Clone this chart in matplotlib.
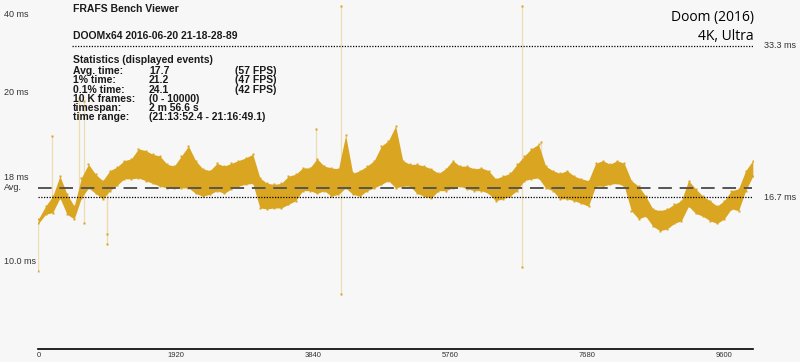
import numpy as np
import matplotlib.pyplot as plt

# --- 1. data ---
# frame index of each sample, and the upper / lower edge of the dot cloud in ms
frames = np.arange(0, 10001, 100)
hi_ms = [14.3, 15.7, 16.8, 19.0, 17.0, 15.7, 18.8, 20.3, 19.2, 18.5,
         19.6, 20.0, 20.7, 20.9, 22.0, 21.8, 21.4, 21.2, 20.3, 20.1,
         21.2, 22.3, 20.7, 19.8, 19.6, 20.4, 20.1, 20.4, 20.7, 21.0,
         21.4, 18.8, 18.2, 18.1, 18.2, 19.0, 19.2, 19.9, 19.9, 20.9,
         20.1, 19.9, 19.8, 23.5, 19.3, 19.6, 20.1, 20.7, 22.3, 22.9,
         24.5, 20.7, 20.3, 20.3, 20.1, 19.8, 19.3, 19.8, 20.7, 20.1,
         20.1, 19.8, 19.9, 19.6, 18.7, 19.0, 19.3, 20.3, 21.2, 22.0,
         22.5, 20.1, 19.6, 19.3, 19.6, 19.0, 18.7, 18.5, 20.4, 20.7,
         20.3, 20.7, 20.4, 18.5, 17.9, 16.8, 15.4, 15.2, 15.4, 15.9,
         16.3, 18.5, 17.6, 16.8, 16.3, 15.7, 16.3, 17.4, 17.6, 19.6,
         20.7]
lo_ms = [13.8, 14.8, 15.0, 16.6, 14.8, 14.3, 16.6, 17.7, 17.1, 16.5,
         17.4, 18.0, 18.7, 18.7, 18.8, 18.5, 18.2, 17.9, 17.7, 17.7,
         17.7, 17.7, 17.1, 16.8, 17.0, 17.4, 17.1, 17.6, 17.9, 18.1,
         18.2, 15.5, 15.4, 15.5, 15.5, 15.9, 16.3, 17.4, 17.4, 17.1,
         17.4, 16.8, 17.0, 17.7, 17.0, 16.8, 17.4, 17.7, 18.1, 18.5,
         17.7, 17.9, 17.9, 17.1, 16.8, 16.6, 17.4, 17.4, 17.7, 17.9,
         17.6, 17.4, 17.4, 17.1, 16.3, 16.5, 16.8, 17.4, 18.5, 18.7,
         18.8, 17.7, 17.4, 16.5, 16.5, 16.3, 16.0, 15.7, 17.9, 17.9,
         18.1, 18.2, 17.9, 15.2, 14.3, 14.6, 13.5, 13.0, 13.2, 13.8,
         14.1, 15.7, 14.9, 14.6, 14.1, 13.8, 14.3, 15.4, 15.2, 17.4,
         19.0]

# isolated frames far from the cloud
spike_frames = [0, 190, 570, 640, 640, 960, 960, 3890, 4235, 4235, 6770, 6770, 7040]
spike_ms = [8.6, 23.4, 27.6, 27.2, 13.8, 12.6, 11.5, 24.2, 37.7, 6.0, 37.7, 9.0, 22.7]

avg_ms = 17.7
ref_ms = [33.3, 16.7]
ref_labels = ["33.3 ms", "16.7 ms"]

left_labels = ["40 ms", "20 ms", "18 ms", "Avg.", "10.0 ms"]
left_label_ms = [36.8, 28.2, 18.9, 17.7, 9.6]

xticks = [0, 1920, 3840, 5760, 7680, 9600]

stats_rows = [
    ("Avg. time:", "17.7", "(57 FPS)"),
    ("1% time:", "21.2", "(47 FPS)"),
    ("0.1% time:", "24.1", "(42 FPS)"),
    ("10 K frames:", "(0 - 10000)", ""),
    ("timespan:", "2 m 56.6 s", ""),
    ("time range:", "(21:13:52.4 - 21:16:49.1)", ""),
]

# --- 2. figure ---
GOLD = '#DAA520'
BG = '#F7F7F7'

fig = plt.figure(figsize=(8, 3.62), dpi=100, facecolor=BG)
ax = fig.add_axes([0.0481, 0.0359, 0.8929, 0.964])
ax.set_facecolor(BG)
ax.set_xlim(0, 10000)
ax.set_ylim(0, 38.35)

for s in ['top', 'right', 'left']:
    ax.spines[s].set_visible(False)
ax.spines['bottom'].set_linewidth(1.2)
ax.set_yticks([])
ax.set_xticks(xticks)
ax.set_xticklabels([str(t) for t in xticks], fontsize=5.5, color='#333333',
                   family='Liberation Sans')
ax.tick_params(axis='x', length=0, pad=2)

# spikes: thin pale lines from the cloud out to the point
mid = (np.array(hi_ms) + np.array(lo_ms)) / 2
for f, v in zip(spike_frames, spike_ms):
    base = np.interp(f, frames, mid)
    ax.plot([f, f], [base, v], color='#EEDDB0', lw=0.9, zorder=1)
ax.plot(spike_frames, spike_ms, 's', color=GOLD, ms=1.8, mec='none', zorder=3)

# the frame time cloud
ax.fill_between(frames, lo_ms, hi_ms, color=GOLD, lw=0, zorder=2)
ax.plot(frames, hi_ms, 's', color=GOLD, ms=2, mec='none', zorder=2)
ax.plot(frames, lo_ms, 's', color=GOLD, ms=2, mec='none', zorder=2)

# reference lines
ax.axhline(avg_ms, xmax=0.9985, color='#555555', lw=1.4, dashes=(7, 4), zorder=4)
ax.plot([470, 10030], [ref_ms[0]] * 2, color='black', lw=0.9, ls=(0, (1, 1.2)), zorder=4)
ax.plot([0, 10010], [ref_ms[1]] * 2, color='black', lw=0.9, ls=(0, (1, 1.2)), zorder=4)
for v, lab in zip(ref_ms, ref_labels):
    ax.text(10150, v, lab, fontsize=6.5, color='#333333', va='center', ha='left',
            family='Liberation Sans', clip_on=False)

# left labels
for lab, v in zip(left_labels, left_label_ms):
    ax.text(-480, v, lab, fontsize=6.5, color='#333333', va='center', ha='left',
            family='Liberation Sans', clip_on=False)

# --- 3. header texts ---
tkw = dict(fontsize=7.5, fontweight='bold', color='#1a1a1a', family='Liberation Sans',
           va='center', ha='left')
fig.text(73 / 800, 1 - 9 / 362, "FRAFS Bench Viewer", **tkw)
fig.text(73 / 800, 1 - 36 / 362, "DOOMx64 2016-06-20 21-18-28-89", **tkw)
fig.text(73 / 800, 1 - 60 / 362, "Statistics (displayed events)", **tkw)
for i, (a, b, c) in enumerate(stats_rows):
    y = 1 - (71 + i * 9.3) / 362
    fig.text(73 / 800, y, a, **tkw)
    fig.text(149 / 800, y, b, **tkw)
    if c:
        fig.text(235 / 800, y, c, **tkw)

fig.text(754 / 800, 1 - 18 / 362, "Doom (2016)", fontsize=10, color='black',
         family='Open Sans', ha='right', va='center')
fig.text(754 / 800, 1 - 36 / 362, "4K, Ultra", fontsize=10, color='black',
         family='Open Sans', ha='right', va='center')

plt.savefig("out.png", dpi=100, facecolor=BG)
